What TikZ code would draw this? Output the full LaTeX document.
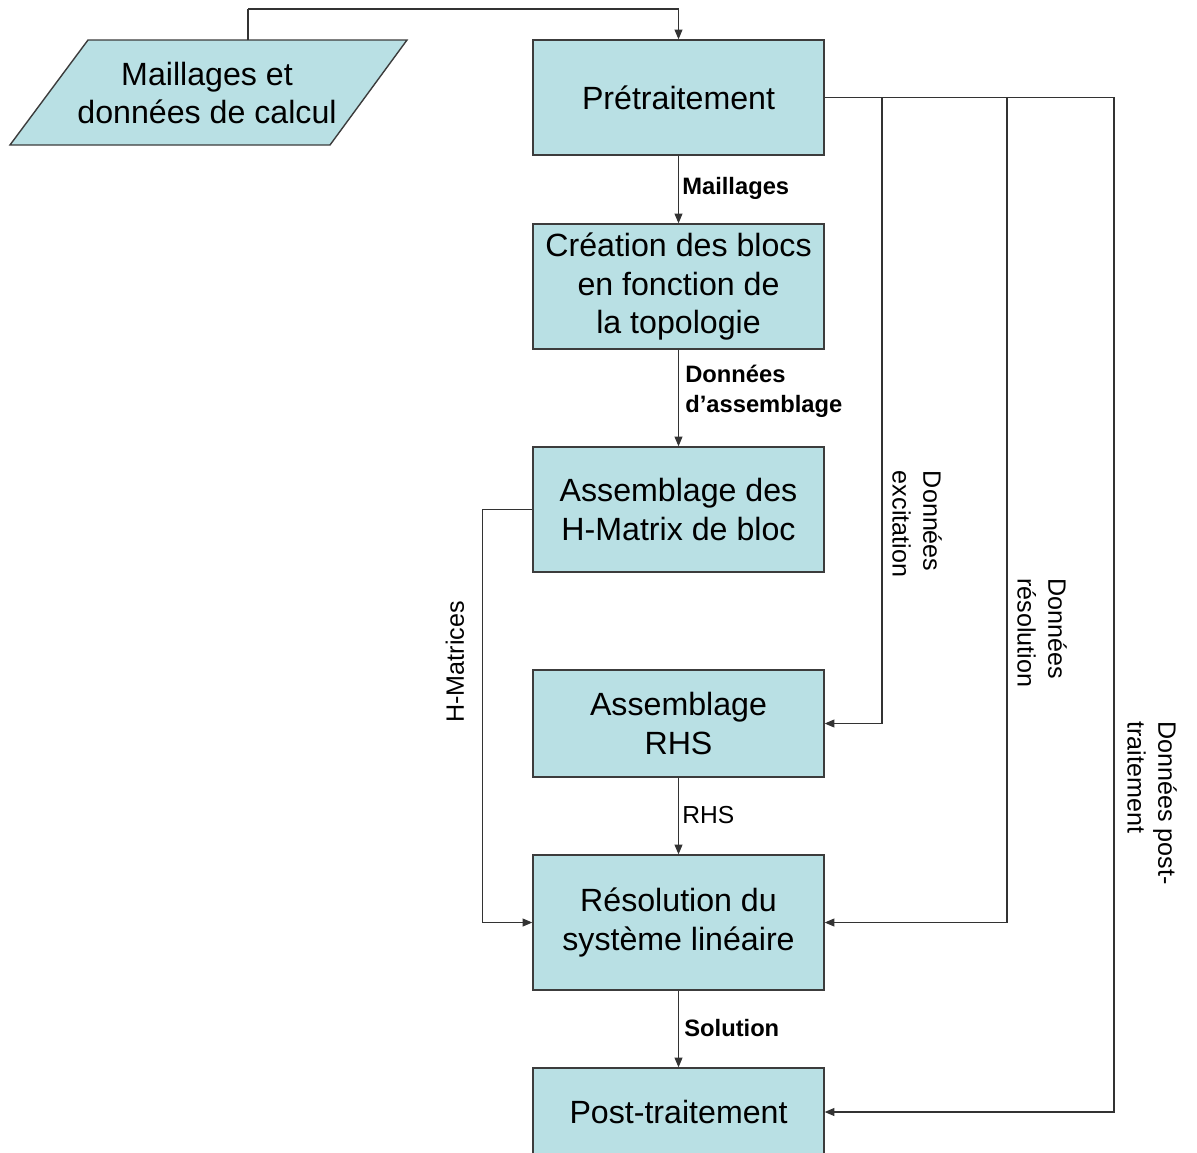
\documentclass[tikz,border=0pt]{standalone}
\usepackage{fontspec}
\setmainfont{Liberation Sans}
\usepackage{xcolor}
\usetikzlibrary{calc,arrows.meta}
\definecolor{bleuboite}{RGB}{185,224,228}
\definecolor{bordboite}{RGB}{60,60,60}

\begin{document}
\begin{tikzpicture}[x=0.02cm,y=-0.02cm,
  boite/.style={draw=bordboite,line width=0.8pt,fill=bleuboite,minimum width=5.82cm,
    align=center,font=\fontsize{18.3}{22}\selectfont,inner sep=0pt},
  fleche/.style={draw=black!80,line width=0.6pt,-{Triangle[length=5.5pt,width=4.5pt]}},
  lien/.style={draw=black!80,line width=0.6pt},
  etiq/.style={font=\bfseries\fontsize{13.5}{17}\selectfont,anchor=west,align=left,inner sep=0pt},
  etiqv/.style={font=\fontsize{14.3}{17.5}\selectfont,align=left,inner sep=0pt}]
\useasboundingbox (0,0) rectangle (1197,1153);

% entree
\coordinate (P1) at (88,40);
\coordinate (P2) at (407,40);
\coordinate (P3) at (330,145);
\coordinate (P4) at (10,145);
\draw[draw=bordboite,line width=0.8pt,fill=bleuboite] (P1) -- (P2) -- (P3) -- (P4) -- cycle;
\node[align=center,font=\fontsize{18.3}{22}\selectfont] (maill) at (207,93) {Maillages et\\donn\'ees de calcul};
\coordinate (maillH) at (248,40);
\coordinate (haut) at (248,9);

% blocs
\node[boite,minimum height=2.3cm] (pre) at (678.5,97.5) {Pr\'etraitement};
\node[boite,minimum height=2.5cm] (crea) at (678.5,286.5) {Cr\'eation des blocs\\en fonction de\\la topologie};
\node[boite,minimum height=2.5cm] (assh) at (678.5,509.5) {Assemblage des\\H-Matrix de bloc};
\node[boite,minimum height=2.14cm] (rhs) at (678.5,723.5) {Assemblage\\RHS};
\node[boite,minimum height=2.7cm] (reso) at (678.5,922.5) {R\'esolution du\\syst\`eme lin\'eaire};
\node[boite,minimum height=1.76cm] (post) at (678.5,1112) {Post-traitement};

\coordinate (c1) at (882,97.5);
\coordinate (c2) at (1007,97.5);
\coordinate (c3) at (1114,97.5);

% liens
\draw[lien] (maillH) -- (haut);
\draw[fleche] (haut) -| (pre.north);
\draw[fleche] (pre) -- (crea);
\draw[fleche] (crea) -- (assh);
\draw[fleche] (rhs) -- (reso);
\draw[fleche] (reso) -- (post);
\draw[fleche] (assh.west) -- ++(-50,0) |- (reso.west);
\draw[fleche] (pre.east) -- (c3) |- (post.east);
\draw[fleche] (c1) |- (rhs.east);
\draw[fleche] (c2) |- (reso.east);

% etiquettes
\node[etiq] (lmaill) at (682,188) {Maillages};
\node[etiq] (lass) at (685,391) {Donn\'ees\\d'assemblage};
\node[etiq,font=\fontsize{14}{17}\selectfont] (lrhs) at (682,815) {RHS};
\node[etiq] (lsol) at (684,1028) {Solution};
\node[etiqv,rotate=90] (lhm) at (455,662) {H-Matrices};
\node[etiqv,rotate=-90] (lexc) at (917,524) {Donn\'ees\\excitation};
\node[etiqv,rotate=-90] (lres) at (1042,633) {Donn\'ees\\r\'esolution};
\node[etiqv,rotate=-90] (lpost) at (1152,803) {Donn\'ees post-\\traitement};
\end{tikzpicture}
\end{document}
